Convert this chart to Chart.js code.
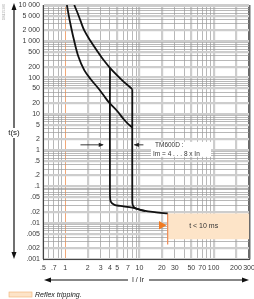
<!DOCTYPE html>
<html lang="en">
<head>
<meta charset="UTF-8">
<title>TM600D trip curve</title>
<script src="https://cdn.jsdelivr.net/npm/chart.js"></script>
<style>
  body { margin: 0; background: #fff; }
  #wrap { position: relative; width: 254px; height: 299px; }
</style>
</head>
<body>
<div id="wrap"><canvas id="curve" width="254" height="299"></canvas></div>
<script>
// tick labels
const yTicks = [10000, 5000, 2000, 1000, 500, 200, 100, 50, 20, 10, 5, 2, 1, 0.5, 0.2, 0.1, 0.05, 0.02, 0.01, 0.005, 0.002, 0.001];
const yLabels = ['10 000', '5 000', '2 000', '1 000', '500', '200', '100', '50', '20', '10', '5', '2', '1', '.5', '.2', '.1', '.05', '.02', '.01', '.005', '.002', '.001'];
const xTicks = [0.5, 0.7, 1, 2, 3, 4, 5, 7, 10, 20, 30, 50, 70, 100, 200, 300];
const xLabels = ['.5', '.7', '1', '2', '3', '4', '5', '7', '10', '20', '30', '50', '70', '100', '200', '300'];

// curves, [I/Ir, t(s)]
const outerCurve = [[1.32, 10000], [1.45, 6300], [1.6, 3700], [1.8, 2000], [2.2, 1000], [2.8, 480], [3.3, 300], [4, 186], [5, 115], [6, 80], [7, 61], [8, 48]];
const outerDrop = [[8, 48], [8, 0.045], [8.1, 0.031], [8.6, 0.026], [10, 0.023], [12, 0.021]];
const innerCurve = [[1.05, 10000], [1.1, 5800], [1.18, 2800], [1.3, 1150], [1.5, 380], [1.8, 160], [2.2, 90], [2.8, 50], [3.3, 32], [3.85, 21], [5, 12], [6.1, 7.2], [7, 5.3], [8, 4.2]];
const innerDrop = [[4, 186], [4, 0.06], [4.1, 0.038], [4.6, 0.031], [5.5, 0.029], [8, 0.026], [11, 0.022], [16, 0.0195], [24, 0.018]];

// reflex tripping zone
const reflexX = [24, 300];
const reflexT = [0.0035, 0.018];
const reflexLineEnd = 0.0025;
const reflexMarker = [[19.8, 0.0085]];

// TM600D callout
const calloutT = 1.4;

function pts(a) { return a.map(p => ({x: p[0], y: p[1]})); }

function gridVals(lo, hi) {
  const out = [];
  for (let e = -4; e <= 4; e++) {
    for (let d = 1; d <= 9; d++) {
      const v = Number((d * Math.pow(10, e)).toPrecision(6));
      if (v >= lo * 0.9999 && v <= hi * 1.0001) out.push(v);
    }
  }
  return out;
}

function labelFor(v, vals, labels) {
  const i = vals.findIndex(t => Math.abs(t - v) < t * 1e-6);
  return i < 0 ? '' : labels[i];
}

function lead(v) {
  const s = v / Math.pow(10, Math.floor(Math.log10(v) + 1e-9));
  return Math.round(s);
}

Chart.defaults.font.family = '"Liberation Sans", Arial, sans-serif';
Chart.defaults.font.size = 7;
Chart.defaults.color = '#3a3a3a';

function arrowHead(ctx, x, y, dir, len, half) {
  ctx.beginPath();
  if (dir === 'up') { ctx.moveTo(x, y); ctx.lineTo(x - half, y + len); ctx.lineTo(x + half, y + len); }
  if (dir === 'down') { ctx.moveTo(x, y); ctx.lineTo(x - half, y - len); ctx.lineTo(x + half, y - len); }
  if (dir === 'left') { ctx.moveTo(x, y); ctx.lineTo(x + len, y - half); ctx.lineTo(x + len, y + half); }
  if (dir === 'right') { ctx.moveTo(x, y); ctx.lineTo(x - len, y - half); ctx.lineTo(x - len, y + half); }
  ctx.closePath();
  ctx.fill();
}

const decor = {
  id: 'decor',
  beforeDatasetsDraw(chart) {
    const {ctx, scales: {x, y}} = chart;
    const x0 = x.getPixelForValue(reflexX[0]), x1 = x.getPixelForValue(reflexX[1]);
    const yTop = y.getPixelForValue(reflexT[1]), yBot = y.getPixelForValue(reflexT[0]);
    ctx.save();
    ctx.fillStyle = '#fde4c8';
    ctx.fillRect(x0, yTop, x1 - x0, yBot - yTop);
    ctx.strokeStyle = '#ee8a55';
    ctx.lineWidth = 1.2;
    ctx.beginPath();
    ctx.moveTo(x0, yTop);
    ctx.lineTo(x0, y.getPixelForValue(reflexLineEnd));
    ctx.stroke();
    ctx.fillStyle = '#333';
    ctx.textAlign = 'center';
    ctx.textBaseline = 'middle';
    ctx.font = '7px "Liberation Sans", Arial, sans-serif';
    ctx.fillText('t < 10 ms', x0 + 36, (yTop + yBot) / 2);

    // callout
    const ya = y.getPixelForValue(calloutT);
    ctx.fillStyle = '#fff';
    ctx.fillRect(151, ya - 3, 60, 15);
    ctx.strokeStyle = '#222';
    ctx.fillStyle = '#222';
    ctx.lineWidth = 0.9;
    ctx.beginPath();
    ctx.moveTo(x.getPixelForValue(1.6), ya);
    ctx.lineTo(x.getPixelForValue(3.2), ya);
    ctx.moveTo(x.getPixelForValue(8.5), ya);
    ctx.lineTo(x.getPixelForValue(11.3), ya);
    ctx.stroke();
    arrowHead(ctx, x.getPixelForValue(3.3), ya, 'right', 5, 2.2);
    arrowHead(ctx, x.getPixelForValue(8.4), ya, 'left', 5, 2.2);
    ctx.textAlign = 'left';
    ctx.font = '6.5px "Liberation Sans", Arial, sans-serif';
    ctx.fillStyle = '#333';
    ctx.fillText('TM600D :', 155, ya);
    ctx.fillText('Im = 4 . . . 8 x In', 153, ya + 9);
    ctx.restore();
  },
  afterDraw(chart) {
    const {ctx, chartArea: a} = chart;
    ctx.save();
    ctx.strokeStyle = '#111';
    ctx.fillStyle = '#111';
    ctx.lineWidth = 1.2;
    // t(s) arrow
    ctx.beginPath();
    ctx.moveTo(14, a.top + 4);
    ctx.lineTo(14, a.bottom - 4);
    ctx.stroke();
    arrowHead(ctx, 14, a.top - 2, 'up', 7, 2.5);
    arrowHead(ctx, 14, a.bottom, 'down', 7, 2.5);
    ctx.fillStyle = '#fff';
    ctx.fillRect(6, 128, 17, 10);
    ctx.fillStyle = '#222';
    ctx.font = '8px "Liberation Sans", Arial, sans-serif';
    ctx.textAlign = 'center';
    ctx.textBaseline = 'middle';
    ctx.fillText('t(s)', 14, 133);
    // I / Ir arrow
    ctx.fillStyle = '#111';
    ctx.beginPath();
    ctx.moveTo(48, 280);
    ctx.lineTo(244, 280);
    ctx.stroke();
    arrowHead(ctx, 44, 280, 'left', 7, 2.5);
    arrowHead(ctx, 249, 280, 'right', 7, 2.5);
    ctx.fillStyle = '#fff';
    ctx.fillRect(128, 275, 21, 10);
    ctx.fillStyle = '#222';
    ctx.font = '7px "Liberation Sans", Arial, sans-serif';
    ctx.fillText('I / Ir', 138, 280);
    // legend
    ctx.fillStyle = '#fde4c8';
    ctx.fillRect(9, 292, 23, 5);
    ctx.strokeStyle = '#f0b070';
    ctx.lineWidth = 0.6;
    ctx.strokeRect(9, 292, 23, 5);
    ctx.fillStyle = '#222';
    ctx.textAlign = 'left';
    ctx.font = 'italic 7px "Liberation Sans", Arial, sans-serif';
    ctx.fillText('Reflex tripping.', 35, 295);
    // figure id
    ctx.translate(4, 12);
    ctx.rotate(-Math.PI / 2);
    ctx.fillStyle = '#aaa';
    ctx.font = '3.5px "Liberation Sans", Arial, sans-serif';
    ctx.textAlign = 'center';
    ctx.fillText('DB125380', 0, 0);
    ctx.restore();
  }
};

const lineStyle = {showLine: true, borderColor: '#111', borderWidth: 1.8, pointRadius: 0, fill: false};

new Chart(document.getElementById('curve'), {
  type: 'scatter',
  data: {
    datasets: [
      Object.assign({label: 'outer', data: pts(outerCurve), tension: 0.35}, lineStyle),
      Object.assign({label: 'outer drop', data: pts(outerDrop), tension: 0.3}, lineStyle),
      Object.assign({label: 'inner', data: pts(innerCurve), tension: 0.35}, lineStyle),
      Object.assign({label: 'inner drop', data: pts(innerDrop), tension: 0.3}, lineStyle),
      {label: 'reflex', data: pts(reflexMarker), showLine: false, pointStyle: 'triangle', rotation: 90,
       pointRadius: 5, backgroundColor: '#f07a22', borderColor: '#f07a22', borderWidth: 0}
    ]
  },
  options: {
    responsive: false,
    animation: false,
    layout: {padding: {left: 0, top: 4, right: 4, bottom: 0}},
    plugins: {legend: {display: false}, tooltip: {enabled: false}},
    scales: {
      x: {
        type: 'logarithmic',
        min: 0.5,
        max: 300,
        afterBuildTicks: s => { s.ticks = gridVals(0.5, 300).map(v => ({value: v})); },
        afterFit: s => { s.height = 40; s.paddingLeft = 0; s.paddingRight = 0; },
        ticks: {
          autoSkip: false,
          maxRotation: 0,
          padding: 5,
          callback: v => labelFor(v, xTicks, xLabels)
        },
        grid: {
          drawTicks: false,
          color: c => {
            const v = c.tick ? c.tick.value : 0;
            if (Math.abs(v - 1) < 1e-6) return '#f2a878';
            if (Math.abs(v - 300) < 1e-3) return '#6a6a6a';
            return [1, 2, 5].includes(lead(v)) ? '#cdcdcd' : '#9a9a9a';
          },
          lineWidth: c => {
            const v = c.tick ? c.tick.value : 0;
            if (Math.abs(v - 1) < 1e-6) return 1;
            if (Math.abs(v - 300) < 1e-3) return 2.5;
            return [1, 2, 5].includes(lead(v)) ? 2.2 : 0.7;
          }
        },
        border: {color: '#444', width: 1}
      },
      y: {
        type: 'logarithmic',
        min: 0.001,
        max: 10000,
        afterBuildTicks: s => { s.ticks = gridVals(0.001, 10000).map(v => ({value: v})); },
        afterFit: s => { s.width = 43; s.paddingTop = 0; s.paddingBottom = 0; },
        ticks: {
          autoSkip: false,
          padding: 3,
          callback: v => labelFor(v, yTicks, yLabels)
        },
        grid: {
          drawTicks: false,
          color: c => {
            const v = c.tick ? c.tick.value : 0;
            return [1, 2, 5].includes(lead(v)) ? '#cdcdcd' : '#9a9a9a';
          },
          lineWidth: c => {
            const v = c.tick ? c.tick.value : 0;
            if (Math.abs(v - 10000) < 1e-3) return 3;
            return [1, 2, 5].includes(lead(v)) ? 2.2 : 0.7;
          }
        },
        border: {color: '#444', width: 1}
      }
    }
  },
  plugins: [decor]
});
</script>
</body>
</html>
